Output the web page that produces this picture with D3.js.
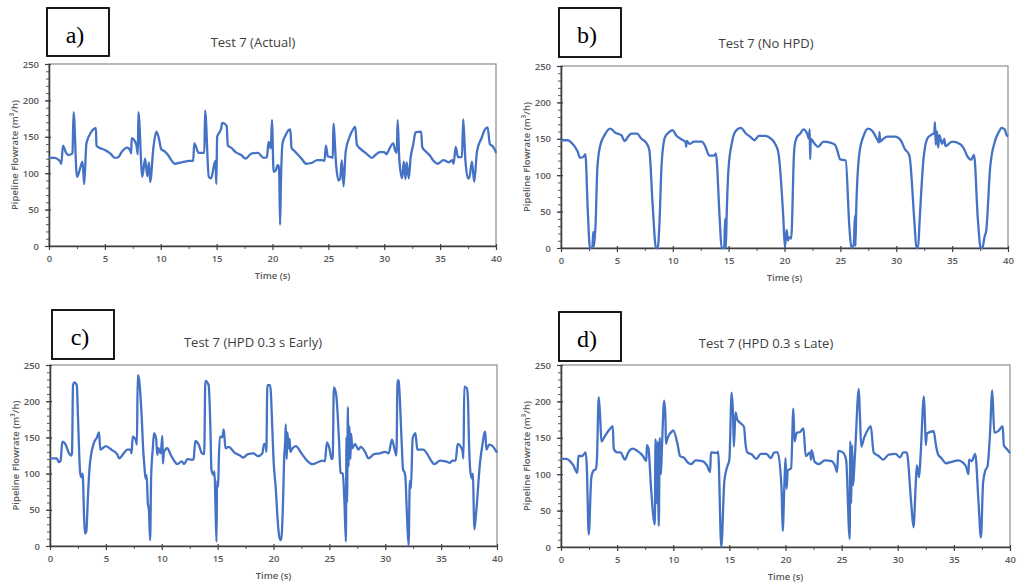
<!DOCTYPE html>
<html lang="en">
  <head>
    <meta charset="UTF-8" />
    <title>Test 7 pipeline flowrate</title>
    <script src="https://cdn.jsdelivr.net/npm/d3@7.6.1/dist/d3.min.js"></script>
    <style>
      body { margin: 0; background: #fff; }
      svg { display: block; }
      .tick text { font-family: 'Open Sans', sans-serif; font-size: 9.5px; font-weight: 600; fill: #595959; }
    </style>
  </head>
  <body>
    <div id="box"></div>
    <script>
      const width = 1018;
      const height = 583;

      // tick values
      const xTicks = [0, 5, 10, 15, 20, 25, 30, 35, 40];
      const yTicks = [0, 50, 100, 150, 200, 250];
      const titles = ['Test 7 (Actual)', 'Test 7 (No HPD)', 'Test 7 (HPD 0.3 s Early)', 'Test 7 (HPD 0.3 s Late)'];
      const letters = ['a)', 'b)', 'c)', 'd)'];

      // [time (s), flowrate (m3/h)]
      const actual = [
        [0,121],[0.5,121],[0.8,119],[1.0,116],[1.1,113],[1.25,138],[1.5,129],[1.7,125],[2.0,126],[2.1,128],[2.2,184],[2.5,95],[2.7,102],[2.85,110],[3.0,116],[3.15,85],[3.35,141],[3.8,157],[4.2,162],[4.25,138],[4.5,135],[5.0,132],[5.5,127],[5.9,121],[6.2,122],[6.5,129],[7.0,135],[7.3,130],[7.35,127],[7.4,148],[7.8,140],[7.95,126],[8.0,184],[8.35,95],[8.6,120],[8.8,96],[8.95,115],[9.05,88],[9.35,136],[9.6,157],[9.8,150],[10.05,133],[10.35,130],[10.65,125],[10.95,118],[11.25,113],[11.85,115],[12.6,117],[12.9,117],[13.0,141],[13.4,128],[13.9,128],[13.97,186],[14.3,95],[14.5,93],[14.8,113],[14.9,117],[14.97,85],[15.05,150],[15.4,161],[15.5,169],[15.9,165],[16.0,138],[16.3,135],[16.7,129],[17.2,125],[17.6,120],[18.1,127],[18.7,128],[19.2,121],[19.5,122],[19.65,143],[19.85,134],[19.95,173],[20.1,102],[20.3,104],[20.45,111],[20.55,110],[20.6,100],[20.68,29],[20.75,85],[20.9,141],[21.2,153],[21.43,159],[21.6,160],[21.7,135],[22.0,130],[22.3,125],[22.6,120],[23.0,113],[23.5,114],[24.0,118],[24.4,118],[24.65,117],[24.78,138],[24.95,123],[25.3,122],[25.4,121],[25.45,168],[25.7,110],[25.9,90],[26.05,92],[26.2,118],[26.36,82],[26.55,130],[26.9,150],[27.2,160],[27.4,164],[27.55,139],[27.9,133],[28.4,127],[28.9,121],[29.2,125],[29.6,129],[30.0,129],[30.2,126],[30.35,130],[30.8,141],[31.0,130],[31.12,128],[31.2,173],[31.35,118],[31.6,93],[31.75,116],[31.9,92],[32.0,115],[32.2,93],[32.35,120],[32.6,140],[32.8,156],[33.3,157],[33.4,136],[33.7,130],[34.1,124],[34.4,117],[34.8,113],[35.3,118],[35.8,115],[36.1,118],[36.2,113],[36.4,136],[36.6,122],[36.95,122],[37.07,174],[37.25,120],[37.5,93],[37.6,93],[37.85,116],[38.05,88],[38.3,130],[38.7,148],[39.0,160],[39.25,163],[39.45,140],[39.7,137],[39.9,132],[40,128]
      ];
      const noHpd = [
        [0,148],[0.6,148],[0.9,145],[1.2,140],[1.5,132],[1.7,124],[2.0,125],[2.18,129],[2.4,50],[2.59,0],[2.8,0],[2.89,22],[2.95,2],[3.1,35],[3.25,109],[3.5,140],[3.9,155],[4.4,164],[4.9,158],[5.4,155],[5.7,147],[6.0,153],[6.3,157],[6.8,157],[7.2,150],[7.6,145],[7.9,135],[8.2,60],[8.5,0],[8.65,0],[8.8,30],[9.0,114],[9.3,152],[9.6,158],[9.98,162],[10.3,155],[10.7,150],[11.15,145],[11.2,139],[11.25,147],[11.5,143],[11.9,146],[12.6,146],[12.9,140],[13.26,127],[13.7,127],[13.86,130],[14.2,40],[14.37,0],[14.6,0],[14.69,40],[14.75,0],[14.82,42],[14.99,109],[15.3,145],[15.6,160],[16.1,165],[16.5,158],[17.0,152],[17.3,148],[17.7,154],[18.3,154],[18.8,150],[19.2,142],[19.46,130],[19.9,40],[20.03,2],[20.1,10],[20.2,25],[20.3,10],[20.4,15],[20.6,13],[20.85,130],[20.9,140],[21.1,152],[21.4,157],[21.7,163],[22.0,158],[22.2,150],[22.25,163],[22.3,122],[22.35,150],[22.7,143],[23.0,139],[23.5,146],[24.0,145],[24.5,142],[24.8,130],[24.95,122],[25.48,120],[25.8,30],[25.99,0],[26.2,5],[26.3,44],[26.35,3],[26.42,54],[26.7,130],[27.1,155],[27.48,164],[27.9,160],[28.3,149],[28.46,145],[28.5,159],[28.55,146],[28.7,148],[29.2,153],[29.9,153],[30.4,148],[30.8,135],[31.09,130],[31.2,125],[31.65,30],[31.8,0],[31.95,0],[32.1,40],[32.43,121],[32.8,151],[33.2,156],[33.4,158],[33.47,173],[33.53,142],[33.65,160],[33.75,138],[33.85,155],[34.1,143],[34.3,150],[34.4,140],[35.0,146],[35.7,143],[36.0,138],[36.4,125],[36.7,121],[36.96,128],[37.3,40],[37.56,0],[37.7,0],[37.9,15],[38.06,25],[38.4,110],[38.8,145],[39.2,160],[39.43,165],[39.7,163],[39.85,156],[40,153]
      ];
      const hpdEarly = [
        [0,121],[0.6,121],[0.8,116],[0.95,118],[1.1,144],[1.4,140],[1.7,128],[1.9,125],[1.97,128],[2.06,222],[2.18,226],[2.4,222],[2.5,180],[2.7,101],[2.8,95],[2.9,100],[2.95,93],[3.05,40],[3.13,17],[3.25,20],[3.4,70],[3.55,110],[3.9,141],[4.2,150],[4.39,157],[4.5,133],[4.7,135],[5.0,138],[5.5,133],[6.0,127],[6.2,121],[6.6,128],[6.9,133],[7.2,133],[7.3,128],[7.4,151],[7.7,145],[7.78,140],[7.85,236],[7.95,232],[8.2,180],[8.35,130],[8.45,110],[8.55,93],[8.65,98],[8.75,60],[8.85,50],[8.96,8],[9.05,95],[9.2,135],[9.31,156],[9.5,148],[9.6,126],[9.7,135],[9.9,128],[10.06,152],[10.1,114],[10.2,130],[10.5,135],[10.8,126],[11.1,118],[11.4,113],[11.8,117],[12.0,113],[12.3,120],[12.7,119],[12.85,120],[13.0,145],[13.3,140],[13.6,128],[13.8,127],[13.9,228],[14.2,222],[14.35,165],[14.45,105],[14.65,98],[14.72,103],[14.8,60],[14.9,6],[14.95,90],[15.05,82],[15.1,116],[15.2,151],[15.4,150],[15.55,161],[15.7,135],[16.0,137],[16.5,129],[17.0,125],[17.3,122],[17.7,127],[18.2,128],[18.6,124],[19.0,128],[19.16,141],[19.3,140],[19.36,130],[19.45,222],[19.7,222],[19.9,160],[20.0,120],[20.2,80],[20.4,30],[20.54,11],[20.69,8],[20.85,60],[20.95,120],[21.05,145],[21.1,168],[21.18,120],[21.25,157],[21.35,135],[21.45,148],[21.5,130],[21.7,135],[22.0,138],[22.5,128],[23.0,118],[23.5,113],[24.0,116],[24.4,118],[24.6,117],[24.78,143],[25.0,135],[25.2,120],[25.3,122],[25.4,219],[25.6,210],[25.85,150],[26.0,101],[26.2,100],[26.35,60],[26.48,6],[26.53,150],[26.58,60],[26.66,192],[26.72,110],[26.8,165],[26.88,120],[26.95,155],[27.05,135],[27.3,141],[27.6,133],[27.8,137],[28.2,130],[28.5,121],[29.0,127],[29.5,128],[30.0,130],[30.3,128],[30.6,147],[30.8,136],[31.0,125],[31.1,229],[31.2,228],[31.45,150],[31.6,105],[31.7,103],[31.8,95],[31.95,40],[32.09,1],[32.2,90],[32.3,80],[32.45,148],[32.7,156],[32.87,133],[33.4,133],[33.8,126],[34.1,118],[34.4,113],[34.9,118],[35.4,117],[35.8,115],[36.0,118],[36.3,118],[36.48,141],[36.9,132],[37.0,121],[37.07,220],[37.3,218],[37.4,203],[37.5,140],[37.6,105],[37.75,93],[37.85,100],[37.92,50],[37.97,23],[38.1,40],[38.5,118],[38.7,140],[38.84,154],[38.95,158],[39.05,133],[39.3,140],[39.6,138],[40,129]
      ];
      const hpdLate = [
        [0,121],[0.5,121],[0.8,118],[1.1,112],[1.45,102],[1.55,125],[1.9,125],[2.2,130],[2.3,110],[2.47,17],[2.7,95],[2.9,105],[3.1,107],[3.2,120],[3.36,206],[3.5,175],[3.6,145],[3.9,152],[4.3,161],[4.61,166],[4.7,135],[5.0,130],[5.3,130],[5.7,120],[6.0,130],[6.4,135],[6.8,132],[7.3,125],[7.6,118],[7.65,140],[7.8,135],[8.0,86],[8.36,31],[8.42,148],[8.55,60],[8.62,145],[8.71,29],[8.8,150],[8.9,100],[9.0,140],[9.19,201],[9.3,180],[9.35,142],[9.5,150],[9.9,159],[10.0,160],[10.4,140],[10.6,125],[11.0,122],[11.3,116],[11.6,114],[12.0,119],[12.6,118],[13.0,112],[13.29,103],[13.35,130],[13.9,129],[14.0,131],[14.28,0],[14.55,90],[14.8,110],[15.0,120],[15.2,212],[15.33,180],[15.4,138],[15.55,185],[15.7,175],[16.0,170],[16.3,165],[16.45,140],[16.6,130],[17.0,127],[17.4,121],[17.8,128],[18.3,128],[18.7,122],[19.0,130],[19.3,130],[19.65,80],[19.75,22],[19.9,85],[20.0,122],[20.1,80],[20.2,105],[20.5,108],[20.7,190],[20.8,145],[21.0,157],[21.3,158],[21.6,163],[21.8,125],[22.2,130],[22.27,120],[22.32,133],[22.6,117],[23.0,114],[23.5,119],[24.1,118],[24.4,112],[24.6,103],[24.7,132],[25.1,130],[25.4,120],[25.72,11],[25.77,145],[25.85,60],[25.93,140],[26.0,85],[26.2,130],[26.53,217],[26.62,185],[26.75,138],[27.0,150],[27.3,160],[27.6,166],[27.85,130],[28.3,125],[28.7,120],[29.2,127],[29.8,128],[30.2,123],[30.5,130],[30.8,130],[31.2,60],[31.4,27],[31.6,85],[31.7,112],[31.9,96],[32.05,130],[32.33,207],[32.42,175],[32.5,140],[32.6,156],[33.2,159],[33.4,140],[33.6,127],[33.9,122],[34.3,115],[34.8,117],[35.4,119],[35.8,116],[36.1,110],[36.3,100],[36.35,120],[36.6,118],[36.9,128],[37.2,60],[37.41,13],[37.6,88],[37.8,105],[38.0,111],[38.2,150],[38.42,215],[38.6,157],[39.0,160],[39.35,166],[39.45,140],[39.7,135],[40,129]
      ];

      const series = [actual, noHpd, hpdEarly, hpdLate];

      // plot area and label box of each panel (page pixels)
      const layout = [
        {left: 49, right: 496, top: 64, bottom: 246, box: [47, 8, 62, 48], titleX: 253, titleY: 47},
        {left: 561, right: 1008, top: 66, bottom: 248, box: [559, 8, 62, 49], titleX: 766, titleY: 48},
        {left: 50, right: 497, top: 365, bottom: 546, box: [52, 310, 62, 49], titleX: 253, titleY: 347},
        {left: 561, right: 1010, top: 365, bottom: 547, box: [559, 312, 62, 49], titleX: 766, titleY: 348},
      ];

      const svg = d3.select('#box').append('svg').attr('width', width).attr('height', height);

      layout.forEach((p, i) => {
        const g = svg.append('g');
        const x = d3.scaleLinear().domain([0, 40]).range([p.left, p.right]);
        const y = d3.scaleLinear().domain([0, 250]).range([p.bottom, p.top]);

        // frame
        g.append('rect')
          .attr('x', p.left).attr('y', p.top)
          .attr('width', p.right - p.left).attr('height', p.bottom - p.top)
          .attr('fill', 'none').attr('stroke', '#8c8c8c').attr('stroke-width', 1.2);

        // minor ticks
        g.append('g')
          .attr('transform', `translate(0,${p.bottom})`)
          .call(d3.axisBottom(x).tickValues(d3.range(2.5, 40, 5)).tickSize(3).tickFormat(''))
          .call(s => s.select('.domain').remove())
          .selectAll('line').attr('stroke', '#595959');
        g.append('g')
          .attr('transform', `translate(${p.left},0)`)
          .call(d3.axisLeft(y).tickValues(d3.range(0, 251, 10)).tickSize(3).tickFormat(''))
          .call(s => s.select('.domain').remove())
          .selectAll('line').attr('stroke', '#595959');

        // major axes
        const xa = g.append('g')
          .attr('transform', `translate(0,${p.bottom})`)
          .call(d3.axisBottom(x).tickValues(xTicks).tickSize(4).tickPadding(5).tickSizeOuter(0));
        xa.selectAll('.tick line').attr('y1', -2).attr('stroke', '#404040').attr('stroke-width', 1.2);
        const ya = g.append('g')
          .attr('transform', `translate(${p.left},0)`)
          .call(d3.axisLeft(y).tickValues(yTicks).tickSize(4).tickPadding(6).tickSizeOuter(0));
        ya.selectAll('.tick line').attr('x1', 2).attr('stroke', '#404040').attr('stroke-width', 1.2);
        g.selectAll('.domain').attr('stroke', '#404040').attr('stroke-width', 1.6);

        // series line
        g.append('path')
          .datum(series[i])
          .attr('fill', 'none')
          .attr('stroke', '#4472c4')
          .attr('stroke-width', 2.3)
          .attr('stroke-linejoin', 'round')
          .attr('d', d3.line().x(d => x(d[0])).y(d => y(d[1])).curve(d3.curveMonotoneX));

        // title and axis labels
        g.append('text')
          .attr('x', p.titleX).attr('y', p.titleY)
          .attr('text-anchor', 'middle')
          .attr('font-family', 'Open Sans, sans-serif').attr('font-size', 13)
          .attr('fill', '#404040')
          .text(titles[i]);
        g.append('text')
          .attr('x', (p.left + p.right) / 2).attr('y', p.bottom + 33)
          .attr('text-anchor', 'middle')
          .attr('font-family', 'Open Sans, sans-serif').attr('font-size', 9.5).attr('font-weight', 600)
          .attr('fill', '#595959')
          .text('Time (s)');
        g.append('text')
          .attr('transform', `translate(${p.left - 31},${(p.top + p.bottom) / 2}) rotate(-90)`)
          .attr('text-anchor', 'middle')
          .attr('font-family', 'Open Sans, sans-serif').attr('font-size', 9.5).attr('font-weight', 600)
          .attr('fill', '#595959')
          .text('Pipeline Flowrate (m³/h)');

        // letter box
        const [bx, by, bw, bh] = p.box;
        g.append('rect')
          .attr('x', bx).attr('y', by).attr('width', bw).attr('height', bh)
          .attr('fill', '#fff').attr('stroke', '#000').attr('stroke-width', 1.8);
        g.append('text')
          .attr('x', bx + bw / 2 - 3).attr('y', by + 35)
          .attr('text-anchor', 'middle')
          .attr('font-family', 'Liberation Serif, serif').attr('font-size', 24)
          .attr('fill', '#000')
          .text(letters[i]);
      });
    </script>
  </body>
</html>
